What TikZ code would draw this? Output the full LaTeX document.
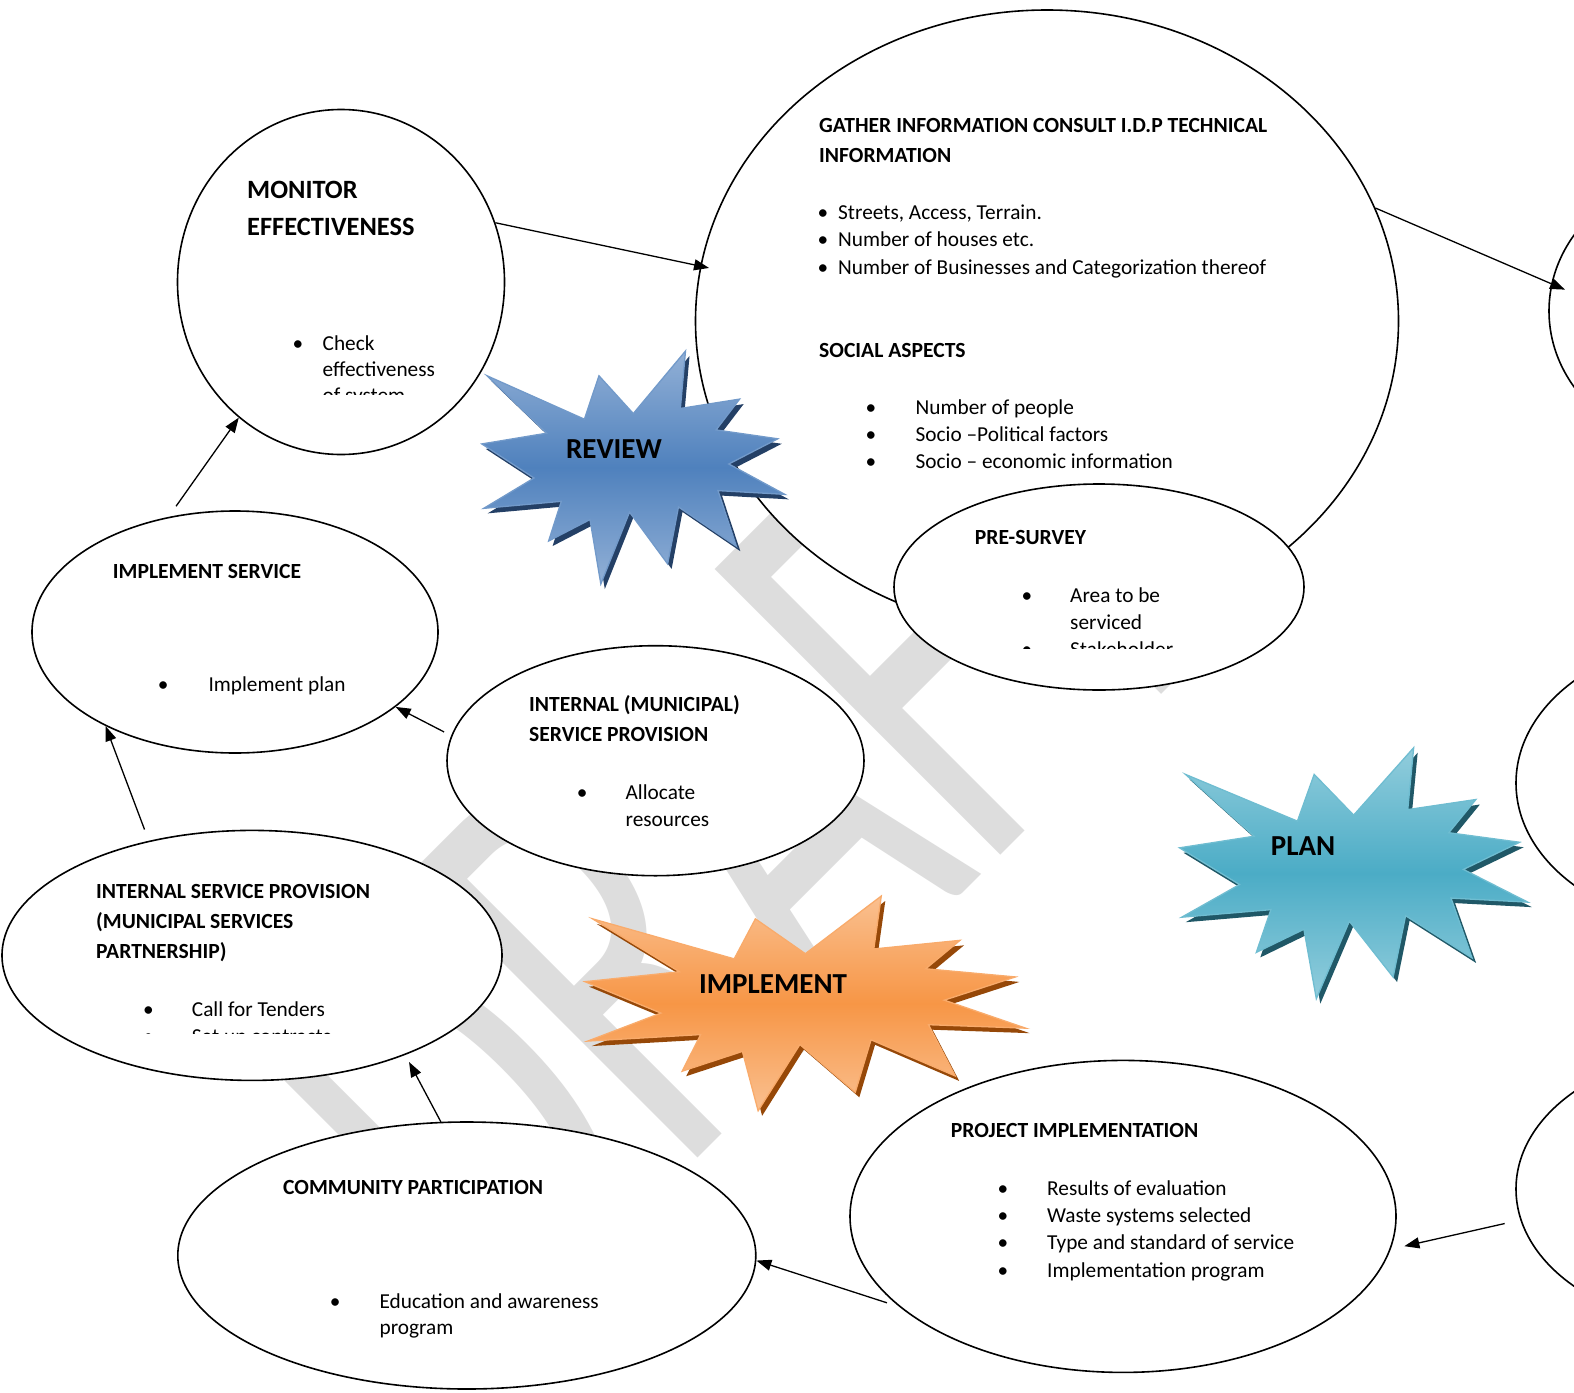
\documentclass[tikz,border=0pt]{standalone}
\usepackage{fontspec}
\setmainfont{Carlito}
\usetikzlibrary{shapes.geometric,arrows.meta}

\definecolor{wm}{RGB}{221,221,221}
\definecolor{revA}{RGB}{146,176,214}
\definecolor{revB}{RGB}{79,129,189}
\definecolor{revS}{RGB}{36,64,102}
\definecolor{impA}{RGB}{250,192,144}
\definecolor{impB}{RGB}{247,150,70}
\definecolor{impS}{RGB}{150,72,8}
\definecolor{plnA}{RGB}{146,205,220}
\definecolor{plnB}{RGB}{75,172,198}
\definecolor{plnS}{RGB}{32,88,103}

% twelve-point explosion outline in a unit box
\newcommand\sealpath{(0.5,0.26852) -- (0.67231,0) -- (0.65532,0.24653) -- (0.85093,0.20634) -- (0.77324,0.33866) -- (0.97671,0.37671) -- (0.81514,0.48495) -- (1,0.61528) -- (0.77949,0.59917) -- (0.84005,0.83773) -- (0.64907,0.66931) -- (0.61329,0.91375) -- (0.48759,0.69144) -- (0.39282,1) -- (0.35718,0.72347) -- (0.22046,0.81560) -- (0.26236,0.64523) -- (0.00625,0.67532) -- (0.17231,0.54514) -- (0,0.39884) -- (0.21421,0.35264) -- (0.01713,0.10625) -- (0.33852,0.29259) -- (0.38667,0.10625) -- cycle}

% #1,#2 top-left corner, #3,#4 size, #5 light tint, #6 main colour, #7 shadow colour
\newcommand\burst[7]{%
  \begin{scope}[shift={({#1+4},{#2+5})},xscale=#3,yscale=#4]
    \fill[#7] \sealpath;
  \end{scope}
  \begin{scope}[shift={(#1,#2)},xscale=#3,yscale=#4]
    \draw[draw=#6!80!white, line width=1.3pt, top color=#5, bottom color=#5, middle color=#6] \sealpath;
  \end{scope}}

\tikzset{
  bubble/.style={ellipse, draw=black, line width=1.6pt, fill=white, inner sep=0pt},
  body/.style={anchor=base west, inner sep=0pt, font=\fontsize{21.3}{25}\selectfont},
  head/.style={anchor=base west, inner sep=0pt, font=\bfseries\fontsize{21.6}{25}\selectfont},
  bighead/.style={anchor=base west, inner sep=0pt, font=\bfseries\fontsize{26.4}{28}\selectfont},
  dot/.style={anchor=base, inner sep=0pt, font=\fontsize{21.3}{25}\selectfont},
  burstword/.style={inner sep=0pt, font=\bfseries\fontsize{29}{30}\selectfont},
  link/.style={line width=1.3pt, -{Triangle[length=15pt,width=11pt]}},
}

\begin{document}
\begin{tikzpicture}[x=1pt,y=-1pt]
\useasboundingbox (0,0) rectangle (1574,1392);
\clip (0,0) rectangle (1574,1392);
\fill[white] (0,0) rectangle (1574,1392);

% watermark, stretched lettering on the diagonal
\node[font=\fontsize{384}{384}\selectfont, text=wm, rotate=45, anchor=base west, inner sep=0pt] (wmark) at (511,1345) {\scalebox{1}[1.64]{DRAFT}};

% information gathering
\node[bubble, minimum width=703pt, minimum height=622pt] (gat) at (1047,321) {};
\node[head] (g1) at (819,132.4) {GATHER INFORMATION CONSULT I.D.P TECHNICAL};
\node[head] (g2) at (819,162.5) {INFORMATION};
\node[dot] (gb1) at (823,219.8) {•};
\node[body] (gt1) at (838,219.8) {Streets, Access, Terrain.};
\node[dot] (gb2) at (823,246.9) {•};
\node[body] (gt2) at (838,246.9) {Number of houses etc.};
\node[dot] (gb3) at (823,274) {•};
\node[body] (gt3) at (838,274) {Number of Businesses and Categorization thereof};
\node[head] (g3) at (819,357.2) {SOCIAL ASPECTS};
\node[dot] (sb1) at (871,414.5) {•};
\node[body] (st1) at (915.5,414.5) {Number of people};
\node[dot] (sb2) at (871,441.6) {•};
\node[body] (st2) at (915.5,441.6) {Socio –Political factors};
\node[dot] (sb3) at (871,468.7) {•};
\node[body] (st3) at (915.5,468.7) {Socio – economic information};

% pre-survey
\node[bubble, minimum width=410pt, minimum height=206pt] (pre) at (1099,587) {};
\node[head] (p1) at (974.7,544.8) {PRE-SURVEY};
\node[dot] (pb1) at (1027,602.1) {•};
\node[body] (pt1) at (1070,602.1) {Area to be};
\node[body] (pt2) at (1070,629.2) {serviced};
\begin{scope}
  \clip (1000,632) rectangle (1250,648.5);
  \node[dot] (pb2) at (1027,656.3) {•};
  \node[body] (pt3) at (1070,656.3) {Stakeholder};
\end{scope}

% monitoring
\node[bubble, minimum width=327pt, minimum height=345pt] (mon) at (341,282) {};
\node[bighead] (m1) at (247,198) {MONITOR};
\node[bighead] (m2) at (247,235) {EFFECTIVENESS};
\node[dot] (mb1) at (298,350.7) {•};
\node[body] (mt1) at (322.5,350.7) {Check};
\node[body] (mt2) at (322.5,376.7) {effectiveness};
\begin{scope}
  \clip (300,380) rectangle (460,394.5);
  \node[body] (mt3) at (322.5,402.7) {of system};
\end{scope}

% implement service
\node[bubble, minimum width=406pt, minimum height=242pt] (is) at (235,632) {};
\node[head] (i1) at (112.7,578.3) {IMPLEMENT SERVICE};
\node[dot] (ib1) at (163.3,691.7) {•};
\node[body] (it1) at (208.3,691.7) {Implement plan};

% internal (municipal) service provision
\node[bubble, minimum width=417pt, minimum height=230pt] (ism) at (655.5,760.7) {};
\node[head] (n1) at (529,711.4) {INTERNAL (MUNICIPAL)};
\node[head] (n2) at (529,741.5) {SERVICE PROVISION};
\node[dot] (nb1) at (582.2,799.8) {•};
\node[body] (nt1) at (625.4,799.8) {Allocate};
\node[body] (nt2) at (625.4,826) {resources};

% internal service provision (partnership)
\node[bubble, minimum width=500pt, minimum height=250pt] (isp) at (252,955.4) {};
\node[head] (q1) at (96,898.1) {INTERNAL SERVICE PROVISION};
\node[head] (q2) at (96,928.2) {(MUNICIPAL SERVICES};
\node[head] (q3) at (96,958.3) {PARTNERSHIP)};
\node[dot] (qb1) at (148.5,1016.6) {•};
\node[body] (qt1) at (191.7,1016.6) {Call for Tenders};
\begin{scope}
  \clip (120,1020) rectangle (420,1033.3);
  \node[dot] (qb2) at (148.5,1043.7) {•};
  \node[body] (qt2) at (191.7,1043.7) {Set up contracts};
\end{scope}

% community participation
\node[bubble, minimum width=578pt, minimum height=267pt] (com) at (466.8,1255.5) {};
\node[head] (c1) at (283,1194.2) {COMMUNITY PARTICIPATION};
\node[dot] (cb1) at (335.3,1308.7) {•};
\node[body] (ct1) at (379.4,1308.7) {Education and awareness};
\node[body] (ct2) at (379.4,1334.8) {program};

% project implementation
\node[bubble, minimum width=546pt, minimum height=312pt] (proj) at (1123,1216.4) {};
\node[head] (r1) at (950.6,1137) {PROJECT IMPLEMENTATION};
\node[dot] (rb1) at (1002.8,1195.3) {•};
\node[body] (rt1) at (1047,1195.3) {Results of evaluation};
\node[dot] (rb2) at (1002.8,1222.4) {•};
\node[body] (rt2) at (1047,1222.4) {Waste systems selected};
\node[dot] (rb3) at (1002.8,1249.5) {•};
\node[body] (rt3) at (1047,1249.5) {Type and standard of service};
\node[dot] (rb4) at (1002.8,1277.6) {•};
\node[body] (rt4) at (1047,1277.6) {Implementation program};

% stages running off the right edge
\node[bubble, minimum width=314pt, minimum height=280pt] (tr) at (1706,311) {};
\node[bubble, minimum width=400pt, minimum height=290pt] (mr) at (1716,783) {};
\node[bubble, minimum width=400pt, minimum height=276pt] (br) at (1716,1189) {};

% phase bursts
\burst{481.8}{351}{303}{233}{revA}{revB}{revS}
\node[burstword] (review) at (614,449) {REVIEW};
\burst{585}{896}{440.7}{214.8}{impA}{impB}{impS}
\node[burstword] (implement) at (773,984.5) {IMPLEMENT};
\burst{1179.5}{747.7}{348.3}{251}{plnA}{plnB}{plnS}
\node[burstword] (plan) at (1303,846) {PLAN};

% flow
\draw[link, shorten >=-9pt] (mon.21) -- (gat.171);
\draw[link, shorten >=-15pt] (gat.19) -- (tr.170);
\draw[link, shorten <=13pt] (is.120) -- (mon.233);
\draw[link, shorten <=8pt] (ism.173) -- (is.-25);
\draw[link, shorten <=12pt] (isp.132) -- (is.216);
\draw[link, shorten >=8pt] (com.101) -- (isp.-33);
\draw[link, shorten <=13pt] (proj.202) -- (com.-1);
\draw[link, shorten <=16pt, shorten >=14pt] (br.189) -- (proj.-7);
\end{tikzpicture}
\end{document}
